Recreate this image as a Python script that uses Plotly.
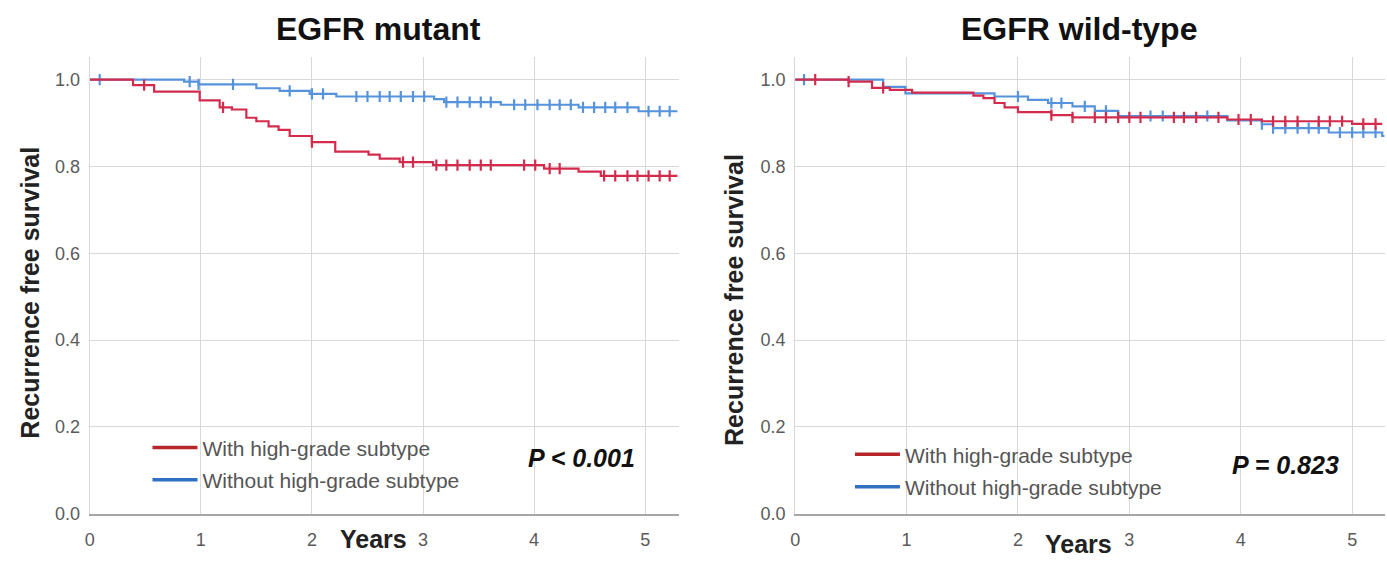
import plotly.graph_objects as go

W, H = 1387, 565

# ---------------- data ----------------
# EGFR mutant
mut_with_t = [0, 0.39, 0.58, 0.99, 1.17, 1.28, 1.41, 1.50, 1.61, 1.70, 1.80, 2.00, 2.21, 2.51, 2.61, 2.79, 3.09, 4.09, 4.40, 4.60, 5.29]
mut_with_s = [1.0, 0.987, 0.972, 0.952, 0.936, 0.931, 0.912, 0.904, 0.892, 0.884, 0.870, 0.856, 0.834, 0.827, 0.818, 0.810, 0.803, 0.795, 0.788, 0.778, 0.778]
mut_with_c = [0.49, 1.20, 2.00, 2.82, 2.91, 3.12, 3.21, 3.31, 3.42, 3.52, 3.61, 3.91, 4.01, 4.14, 4.23, 4.63, 4.73, 4.84, 4.93, 5.03, 5.13, 5.22]

mut_wo_t = [0, 0.85, 0.98, 1.50, 1.71, 1.98, 2.22, 3.10, 3.19, 3.70, 4.40, 4.94, 5.29]
mut_wo_s = [1.0, 0.995, 0.989, 0.980, 0.974, 0.967, 0.961, 0.955, 0.948, 0.942, 0.936, 0.927, 0.927]
mut_wo_c = [0.09, 0.90, 0.98, 1.29, 1.80, 2.00, 2.10, 2.40, 2.50, 2.61, 2.70, 2.80, 2.91, 3.01, 3.21, 3.31,
            3.42, 3.52, 3.61, 3.82, 3.92, 4.03, 4.14, 4.23, 4.33, 4.44, 4.54, 4.64, 4.73, 4.84, 5.03, 5.13, 5.22]

# EGFR wild-type
wt_with_t = [0, 0.48, 0.69, 0.85, 1.05, 1.60, 1.69, 1.79, 1.88, 2.00, 2.30, 2.49, 3.88, 4.19, 5.00, 5.27]
wt_with_s = [1.0, 0.995, 0.981, 0.976, 0.970, 0.963, 0.957, 0.946, 0.936, 0.925, 0.918, 0.913, 0.908, 0.904, 0.898, 0.898]
wt_with_c = [0.18, 0.48, 0.79, 2.30, 2.49, 2.69, 2.79, 2.90, 3.00, 3.10, 3.40, 3.49, 3.60, 3.80, 3.98, 4.09,
             4.29, 4.40, 4.51, 4.70, 4.80, 4.91, 5.10, 5.21]

wt_wo_t = [0, 0.79, 0.99, 1.79, 2.09, 2.27, 2.49, 2.69, 2.90, 3.88, 4.19, 4.29, 4.79, 5.27, 5.29]
wt_wo_s = [1.0, 0.983, 0.968, 0.961, 0.953, 0.946, 0.938, 0.928, 0.916, 0.906, 0.897, 0.888, 0.878, 0.870, 0.870]
wt_wo_c = [0.08, 2.00, 2.30, 2.39, 2.60, 2.79, 3.19, 3.30, 3.70, 4.19, 4.29, 4.40, 4.51, 4.61, 4.70, 4.89, 5.00, 5.10, 5.21]

x_ticks = [0, 1, 2, 3, 4, 5]
y_ticks = [0.0, 0.2, 0.4, 0.6, 0.8, 1.0]
series_names = ["With high-grade subtype", "Without high-grade subtype"]
panel_titles = ["EGFR mutant", "EGFR wild-type"]
p_texts = ["P < 0.001", "P = 0.823"]

RED, BLUE = "#d42b4d", "#5593dc"
RED_LEG, BLUE_LEG = "#b8262c", "#2f70c2"
FONT = "Liberation Sans"


def step_value(ts, ss, t):
    v = ss[0]
    for ti, si in zip(ts, ss):
        if ti <= t:
            v = si
    return v


fig = go.Figure()

panels = [
    ("x", "y", [(mut_wo_t, mut_wo_s, mut_wo_c, BLUE), (mut_with_t, mut_with_s, mut_with_c, RED)]),
    ("x2", "y2", [(wt_wo_t, wt_wo_s, wt_wo_c, BLUE), (wt_with_t, wt_with_s, wt_with_c, RED)]),
]
for xa, ya, series in panels:
    for ts, ss, cs, col in series:
        fig.add_trace(go.Scatter(x=ts, y=ss, mode="lines", line=dict(color=col, width=2.2, shape="hv"),
                                 xaxis=xa, yaxis=ya, showlegend=False, hoverinfo="skip"))
        fig.add_trace(go.Scatter(x=cs, y=[step_value(ts, ss, c) for c in cs], mode="markers",
                                 marker=dict(symbol="line-ns", size=8, line=dict(color=col, width=2.2)),
                                 xaxis=xa, yaxis=ya, showlegend=False, hoverinfo="skip"))

# legend entries
for lg, xa, ya in [("legend", "x", "y"), ("legend2", "x2", "y2")]:
    for name, col in zip(series_names, [RED_LEG, BLUE_LEG]):
        fig.add_trace(go.Scatter(x=[None], y=[None], mode="lines", name=name, legend=lg,
                                 legendgroup=lg + name, line=dict(color=col, width=3.5),
                                 xaxis=xa, yaxis=ya))

xdom1 = [85 / W, 676 / W]
xdom2 = [793 / W, 1385 / W]
ydom = [(H - 523) / H, (H - 58) / H]

axis_common = dict(showgrid=True, gridcolor="#d9d9d9", gridwidth=1, zeroline=False,
                   ticks="", tickfont=dict(family=FONT, size=18, color="#5a5a5a"))

fig.update_layout(
    width=W, height=H, margin=dict(l=0, r=0, t=0, b=0),
    paper_bgcolor="white", plot_bgcolor="white",
    xaxis=dict(domain=xdom1, range=[0, 5.30], tickvals=x_ticks, anchor="y", ticklabelstandoff=9,
               showline=True, linecolor="#a6a6a6", linewidth=2, **axis_common),
    yaxis=dict(domain=ydom, range=[0, 1.052], tickvals=y_ticks, tickformat=".1f", anchor="x",
               ticklabelstandoff=5,
               showline=True, linecolor="#d9d9d9", linewidth=1, **axis_common),
    xaxis2=dict(domain=xdom2, range=[0, 5.295], tickvals=x_ticks, anchor="y2", ticklabelstandoff=9,
                showline=True, linecolor="#a6a6a6", linewidth=2, **axis_common),
    yaxis2=dict(domain=ydom, range=[0, 1.052], tickvals=y_ticks, tickformat=".1f", anchor="x2",
                ticklabelstandoff=5,
                showline=True, linecolor="#d9d9d9", linewidth=1, **axis_common),
    legend=dict(x=143 / W, y=(H - 435) / H, xanchor="left", yanchor="top", bgcolor="rgba(0,0,0,0)",
                font=dict(family=FONT, size=21, color="#555555"), tracegroupgap=2, itemwidth=45),
    legend2=dict(x=848 / W, y=(H - 442) / H, xanchor="left", yanchor="top", bgcolor="rgba(0,0,0,0)",
                 font=dict(family=FONT, size=21, color="#555555"), tracegroupgap=2, itemwidth=45),
)

ann = []
for cx, title in zip([375, 1078], panel_titles):
    ann.append(dict(x=cx / W, y=(H - 30) / H, xref="paper", yref="paper", text="<b>" + title + "</b>",
                    xanchor="center", yanchor="middle",
                    showarrow=False, font=dict(family=FONT, size=32, color="#111111")))
for cx, cy in [(25, 298), (731, 305)]:
    ann.append(dict(x=cx / W, y=(H - cy) / H, xref="paper", yref="paper", text="<b>Recurrence free survival</b>",
                    xanchor="center", yanchor="middle",
                    textangle=-90, showarrow=False, font=dict(family=FONT, size=25, color="#222222")))
for cx, cy in [(370, 549), (1077, 554)]:
    ann.append(dict(x=cx / W, y=(H - cy) / H, xref="paper", yref="paper", text="<b>Years</b>",
                    xanchor="center", yanchor="middle",
                    showarrow=False, font=dict(family=FONT, size=25, color="#222222")))
for (cx, cy), pt in zip([(579, 466), (1285, 473)], p_texts):
    ann.append(dict(x=cx / W, y=(H - cy) / H, xref="paper", yref="paper", text="<b><i>" + pt + "</i></b>",
                    xanchor="center", yanchor="middle",
                    showarrow=False, font=dict(family=FONT, size=25, color="#111111")))
fig.update_layout(annotations=ann)

fig.write_html("out.html")
